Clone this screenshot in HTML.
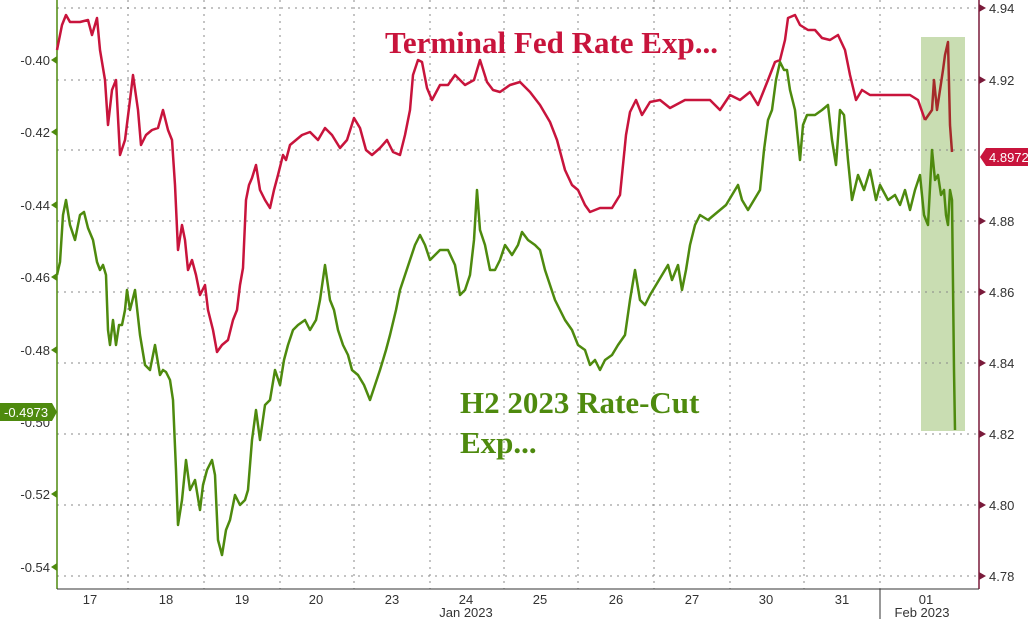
<!DOCTYPE html>
<html><head><meta charset="utf-8"><style>
body{margin:0;background:#fff}
svg{display:block;font-family:"Liberation Sans",sans-serif}
</style></head><body>
<svg width="1028" height="619" viewBox="0 0 1028 619">
<rect x="921" y="37" width="44" height="394" fill="#c9ddb2"/>
<g stroke="#888" stroke-width="1" stroke-dasharray="2,5" fill="none">
<path d="M57 8H979M57 80H979M57 150H979M57 221H979M57 292H979M57 363H979M57 434H979M57 505H979M57 576H979"/>
<path d="M128 0V589M204 0V589M280 0V589M354 0V589M430 0V589M504 0V589M578 0V589M654 0V589M730 0V589M804 0V589M880 0V589"/>
</g>
<line x1="880" y1="589" x2="880" y2="619" stroke="#333"/>
<line x1="57" y1="0" x2="57" y2="589" stroke="#4e8a0e" stroke-width="1.5"/>
<line x1="979" y1="0" x2="979" y2="589" stroke="#7a1a3a" stroke-width="1.5"/>
<line x1="57" y1="589" x2="979" y2="589" stroke="#333"/>
<g fill="#333" font-size="13">
<text x="90" y="604" text-anchor="middle">17</text><text x="166" y="604" text-anchor="middle">18</text>
<text x="242" y="604" text-anchor="middle">19</text><text x="316" y="604" text-anchor="middle">20</text>
<text x="392" y="604" text-anchor="middle">23</text><text x="466" y="604" text-anchor="middle">24</text>
<text x="540" y="604" text-anchor="middle">25</text><text x="616" y="604" text-anchor="middle">26</text>
<text x="692" y="604" text-anchor="middle">27</text><text x="766" y="604" text-anchor="middle">30</text>
<text x="842" y="604" text-anchor="middle">31</text><text x="926" y="604" text-anchor="middle">01</text>
<text x="466" y="617" text-anchor="middle">Jan 2023</text><text x="922" y="617" text-anchor="middle">Feb 2023</text>
</g>
<g fill="#333" font-size="13" text-anchor="end">
<text x="50" y="65">-0.40</text><text x="50" y="137">-0.42</text><text x="50" y="210">-0.44</text>
<text x="50" y="282">-0.46</text><text x="50" y="355">-0.48</text><text x="50" y="427">-0.50</text>
<text x="50" y="499">-0.52</text><text x="50" y="572">-0.54</text>
</g>
<g fill="#4e8a0e"><path d="M57 56l-6 4 6 4zM57 128l-6 4 6 4zM57 201l-6 4 6 4zM57 273l-6 4 6 4zM57 346l-6 4 6 4zM57 490l-6 4 6 4zM57 563l-6 4 6 4z"/></g>
<g fill="#333" font-size="13">
<text x="989" y="13">4.94</text><text x="989" y="85">4.92</text><text x="989" y="226">4.88</text>
<text x="989" y="297">4.86</text><text x="989" y="368">4.84</text><text x="989" y="439">4.82</text>
<text x="989" y="510">4.80</text><text x="989" y="581">4.78</text>
</g>
<g fill="#7a1a3a"><path d="M979 4l7 4-7 4zM979 76l7 4-7 4zM979 217l7 4-7 4zM979 288l7 4-7 4zM979 359l7 4-7 4zM979 430l7 4-7 4zM979 501l7 4-7 4zM979 572l7 4-7 4z"/></g>
<path d="M0 403H52L57 412L52 421H0Z" fill="#4e8a0e"/>
<text x="4" y="417" fill="#fff" font-size="13">-0.4973</text>
<path d="M986 148H1028V166H986L980 157Z" fill="#c8143c"/>
<text x="989" y="162" fill="#fff" font-size="13">4.8972</text>
<polyline fill="none" stroke="#c8143c" stroke-width="2.5" stroke-linejoin="round" points="57,50 62,25 66,15 70,22 80,22 88,20 92,35 97,18 100,50 105,80 108,125 112,90 116,80 120,155 125,140 130,100 133,75 138,110 141,145 146,135 152,130 158,128 163,110 168,130 172,140 175,185 178,250 182,225 185,240 188,270 192,260 196,275 200,295 205,285 208,310 213,330 217,352 222,345 228,340 233,320 237,310 240,285 243,268 246,200 249,185 252,178 256,165 260,190 265,200 270,208 274,190 278,175 283,155 286,160 290,145 296,140 302,135 310,132 318,140 325,128 332,135 340,148 347,140 354,118 360,128 366,150 372,155 380,148 387,140 393,152 400,155 405,135 410,110 413,75 418,60 422,62 427,88 432,100 440,85 448,85 455,75 465,85 474,80 480,60 487,82 493,90 500,92 510,85 520,82 530,92 540,105 550,122 557,140 565,170 572,185 578,190 585,205 590,212 600,208 612,208 620,195 626,135 630,112 636,100 642,115 650,102 660,100 670,108 685,100 700,100 710,100 720,110 730,95 740,100 750,92 758,105 762,95 768,80 775,62 780,60 785,40 788,18 795,15 800,25 808,30 815,30 822,38 830,40 838,35 845,50 850,75 856,100 862,90 870,95 880,95 895,95 910,95 918,100 925,120"/>
<polyline fill="none" stroke="#a52a2a" stroke-width="2.5" stroke-linejoin="round" points="925,120 932,110 934,80 937,110 940,90 943,70 945,55 948,42 950,125 952,152"/>
<polyline fill="none" stroke="#4e8a0e" stroke-width="2.5" stroke-linejoin="round" points="57,275 60,262 63,215 66,200 70,225 75,240 80,215 84,212 88,228 93,240 97,262 100,270 103,265 106,275 108,330 110,345 113,320 116,345 119,325 122,325 125,310 127,290 130,310 135,290 140,335 145,365 150,370 155,345 160,375 163,370 166,372 170,380 173,400 176,470 178,525 182,500 186,460 190,490 195,480 200,510 203,485 207,470 212,460 215,475 218,540 222,555 226,530 230,520 235,495 240,505 245,500 248,490 252,440 256,410 260,440 265,405 270,400 275,370 280,385 284,360 288,345 293,330 298,325 305,320 310,330 316,320 320,300 325,265 330,300 334,310 338,330 343,345 348,355 352,370 358,375 364,385 370,400 375,385 380,370 386,350 390,335 396,310 400,290 405,275 410,260 415,245 420,235 425,245 430,260 435,255 440,250 448,250 455,265 460,295 465,290 470,275 474,240 477,190 480,230 485,245 490,270 495,270 500,260 505,245 512,255 518,245 522,232 528,240 535,245 540,250 545,270 550,285 555,300 560,310 565,320 572,330 578,345 585,350 590,365 595,360 600,370 605,360 612,355 618,345 625,335 630,300 635,270 640,300 645,305 650,295 656,285 662,275 668,265 672,280 678,265 682,290 686,270 690,245 695,225 700,215 708,220 714,215 720,210 726,205 732,195 738,185 742,200 748,210 754,200 760,190 764,150 768,120 772,110 776,80 780,62 784,70 787,70 790,90 795,110 800,160 803,125 807,115 815,115 822,110 828,105 832,140 836,165 840,110 844,115 848,160 852,200 858,175 864,190 870,170 876,200 880,185 888,200 895,195 900,205 905,190 910,210 915,190 920,175 924,215 928,225 932,150 935,180 938,175 941,195 944,190 946,215 948,225 950,190 952,200 954,370 955,430"/>
<g font-family="'Liberation Serif',serif" font-weight="bold" font-size="31">
<text x="385" y="53" fill="#c8143c">Terminal Fed Rate Exp...</text>
<text x="460" y="413" fill="#4e8a0e">H2 2023 Rate-Cut</text>
<text x="460" y="453" fill="#4e8a0e">Exp...</text>
</g>
</svg>
</body></html>
